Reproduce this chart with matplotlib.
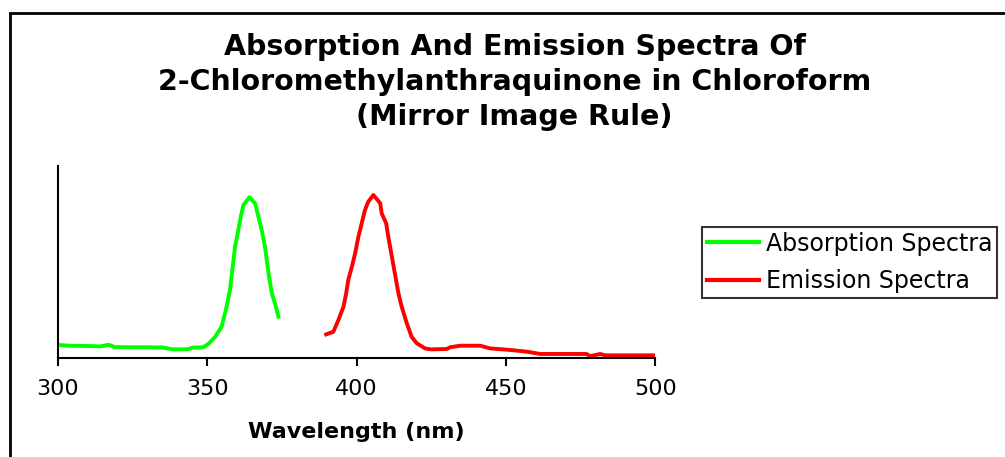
import matplotlib.pyplot as plt
from matplotlib.patches import Rectangle

# absorption spectrum (wavelength nm, relative intensity)
abs_wl = [300, 304, 308, 311.7, 314, 317, 319, 325, 330, 335, 338, 341, 343.5,
          345, 348.6, 350.5, 352.6, 354.8, 356.2, 357.6, 358.5, 359.3, 360.4,
          361.2, 362.1, 364.1, 366, 367.1, 368.2, 369.3, 370.5, 371.6, 373, 373.8]
abs_int = [0.068, 0.064, 0.063, 0.062, 0.060, 0.069, 0.057, 0.056, 0.056, 0.055,
           0.046, 0.045, 0.046, 0.054, 0.056, 0.075, 0.11, 0.163, 0.25, 0.354,
           0.475, 0.58, 0.667, 0.736, 0.797, 0.837, 0.806, 0.736, 0.667, 0.58,
           0.441, 0.337, 0.267, 0.215]

# emission spectrum
em_wl = [389.8, 392.2, 393.9, 395.6, 396.5, 397.2, 398.4, 399.5, 400.6, 401.7,
         402.8, 403.9, 405.6, 407.9, 408.4, 409.9, 410.6, 411.8, 413.2, 414,
         415.1, 416.8, 418.4, 420.1, 422.9, 425, 430.2, 431.3, 434.7, 441.4,
         444.7, 451.4, 457, 461.5, 470, 477, 478.2, 481.6, 483.2, 490, 500]
em_int = [0.123, 0.137, 0.198, 0.267, 0.337, 0.406, 0.475, 0.545, 0.632, 0.701,
          0.771, 0.814, 0.849, 0.806, 0.753, 0.701, 0.632, 0.528, 0.406, 0.337,
          0.267, 0.181, 0.111, 0.077, 0.05, 0.045, 0.047, 0.056, 0.064, 0.064,
          0.05, 0.042, 0.033, 0.021, 0.021, 0.021, 0.01, 0.021, 0.014, 0.014,
          0.014]

x_ticks = [300, 350, 400, 450, 500]

plt.rcParams['font.family'] = ['DejaVu Sans']

fig = plt.figure(figsize=(10.05, 4.57), dpi=100)
ax = fig.add_axes([0.0577, 0.2166, 0.5943, 0.4202])

ax.plot(abs_wl, abs_int, color='#00ff00', lw=2.8, label='Absorption Spectra')
ax.plot(em_wl, em_int, color='#ff0000', lw=2.8, label='Emission Spectra')

ax.set_xlim(300, 500)
ax.set_ylim(0, 1)
ax.set_xticks(x_ticks)
ax.set_yticks([])
ax.tick_params(axis='x', direction='out', length=6, width=1.5, labelsize=16, pad=9)
for side in ['top', 'right']:
    ax.spines[side].set_visible(False)
ax.spines['left'].set_linewidth(1.5)
ax.spines['bottom'].set_linewidth(1.5)

ax.set_xlabel('Wavelength (nm)', fontsize=16, fontweight='bold', labelpad=17)

fig.text(0.512, 0.927, 'Absorption And Emission Spectra Of\n'
         '2-Chloromethylanthraquinone in Chloroform\n(Mirror Image Rule)',
         ha='center', va='top', fontsize=20.5, fontweight='bold', linespacing=1.32)

leg = fig.legend(loc='upper left', bbox_to_anchor=(702 / 1005, 1 - 227 / 457),
                 fontsize=17, frameon=True, fancybox=False, handlelength=2.2,
                 borderpad=0.2, labelspacing=0.56, handletextpad=0.3,
                 borderaxespad=0)
leg.get_frame().set_edgecolor('black')
leg.get_frame().set_linewidth(1.5)
for h in leg.get_lines():
    h.set_linewidth(3)

# outer chart border
fig.patches.append(Rectangle((10 / 1005, -0.1), 1.2, 1.1 - 13 / 457,
                             transform=fig.transFigure, fill=False,
                             edgecolor='black', linewidth=2))

fig.savefig('out.png', dpi=100)
